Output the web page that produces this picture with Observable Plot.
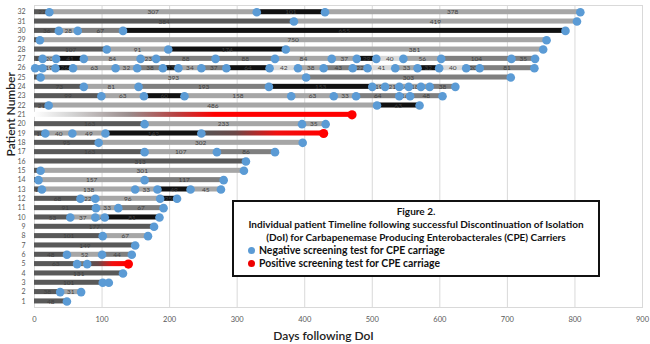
<!DOCTYPE html>
<html>
<head>
<meta charset="utf-8">
<script src="https://cdn.jsdelivr.net/npm/d3@7"></script>
<script src="https://cdn.jsdelivr.net/npm/@observablehq/plot@0.6"></script>
<style>
  body { margin: 0; background: #fff; }
  #chart { position: relative; width: 650px; height: 344px; font-family: Lato, "Open Sans", sans-serif; }
  #key {
    position: absolute; left: 232px; top: 200px; width: 364px; height: 70px;
    border: 2px solid #111; background: #fff; color: #111;
    font-weight: bold; font-size: 10px; line-height: 13.2px; padding-top: 2.5px; box-sizing: content-box;
  }
  #key .t { text-align: center; white-space: nowrap; }
  #key .item { white-space: nowrap; padding-left: 14px; display: flex; align-items: center; font-size: 10.4px; }
  #key .dot { display: inline-block; width: 7px; height: 7px; border-radius: 50%; margin-right: 4px; }
</style>
</head>
<body>
<div id="chart"></div>
<script>
// Patients 1..32, bottom to top
const patientIds = d3.range(1, 33);

// Days between consecutive screening tests, per patient (first interval starts at DoI)
const daysBetweenTests = [
  [48],
  [38, 31],
  [101, 9],
  [131],
  [63, 15, 61],
  [48, 52, 44],
  [149],
  [101, 67],
  [177],
  [53, 37, 14, 81],
  [91, 33, 67],
  [68, 22, 96, 25],
  [11, 138, 33, 49, 45],
  [6, 157, 117],
  [9, 301],
  [313],
  [163, 107, 86],
  [95, 302],
  [16, 40, 49, 142, 181],
  [163, 233, 35],
  [470],
  [21, 486, 63],
  [99, 63, 60, 158, 63, 33, 64, 16, 48],
  [73, 81, 193, 153, 19, 21, 14, 18, 13, 38],
  [9, 393, 303],
  [1, 11, 19, 26, 63, 32, 38, 23, 34, 37, 64, 42, 38, 43, 22, 41, 33, 32, 40, 20, 81],
  [12, 20, 41, 84, 23, 88, 88, 84, 37, 29, 40, 56, 104, 35],
  [107, 91, 174, 381],
  [8, 750],
  [36, 28, 67, 655],
  [384, 419],
  [22, 307, 101, 378]
];

// Shade group of each interval: D dark, M mid, L light, P pale, K black, + ends in a positive test
const segmentShade = [
  "D", "DL", "DL", "D", "DM+", "DLM", "D", "DL", "D", "DLLK",
  "DLM", "DLLK", "DLLKL", "DLM", "DL", "D", "DLM", "DL", "DLLK+", "DLL",
  "+", "DLK", "DLKLLLMLM", "DLMKLLLLLM", "DLM",
  "DMLKLLMKLMKPLMMPLKPMM", "DLKLLMMLLKPLMM", "DLKL", "DL", "DLMK", "DL", "DLKL"
];

const dayTicks = [0, 100, 200, 300, 400, 500, 600, 700, 800, 900];

// Build one record per interval
const segments = [];
patientIds.forEach((p, i) => {
  let t = 0;
  daysBetweenTests[i].forEach((len, j) => {
    const shade = segmentShade[i][j];
    segments.push({
      patient: p, start: t, end: t + len, days: len, shade,
      positive: shade === "+",
      key: shade === "+" ? (t === 0 ? "+0" : "+") : shade
    });
    t += len;
  });
});

const half = 0.27; // half bar thickness in row units

const chart = Plot.plot({
  width: 650,
  height: 344,
  marginLeft: 34,
  marginRight: 8,
  marginTop: 5,
  marginBottom: 37,
  style: { fontFamily: "Lato, 'Open Sans', sans-serif", background: "#fff" },
  x: { domain: [0, 900] },
  y: { domain: [0.35, 32.72] },
  color: {
    domain: ["D", "M", "L", "P", "K", "+", "+0"],
    range: ["#595959", "#7f7f7f", "#a6a6a6", "#d9d9d9", "#111111", "url(#posFromDark)", "url(#posFromBlank)"]
  },
  marks: [
    Plot.gridX(dayTicks.slice(1), { stroke: "#d9d9d9", strokeOpacity: 1 }),
    Plot.frame({ stroke: "#d9d9d9" }),
    Plot.rect(segments, {
      x1: "start", x2: "end",
      y1: d => d.patient - half, y2: d => d.patient + half,
      fill: "key"
    }),
    // interval lengths; one-day gaps sit entirely under their dots
    Plot.text(segments.filter(d => !d.positive && d.days > 2), {
      x: d => (d.start + d.end) / 2, y: "patient", text: d => String(d.days),
      fontSize: 6.5, fill: "#404040"
    }),
    Plot.dot(segments.filter(d => !d.positive), { x: "end", y: "patient", r: 4.3, fill: "#5b9bd5" }),
    Plot.dot(segments.filter(d => d.positive), { x: "end", y: "patient", r: 4.6, fill: "#ff0000" }),
    Plot.axisY(patientIds, { tickSize: 0, tickPadding: 9, fontSize: 7, fill: "#595959", label: null }),
    Plot.axisX(dayTicks, { tickSize: 0, tickPadding: 9, fontSize: 7.5, fill: "#595959", label: null }),
    Plot.text(["Patient Number"], { frameAnchor: "left", dx: -23, rotate: -90, fontSize: 12, fontWeight: 600, fill: "#222" }),
    Plot.text(["Days following DoI"], { frameAnchor: "bottom", dx: -15, dy: 32, fontSize: 12, fontWeight: 600, fill: "#222" })
  ]
});

// Gradients for intervals that end in a positive test
const defs = d3.select(chart).insert("defs", ":first-child");
const gDark = defs.append("linearGradient").attr("id", "posFromDark").attr("x1", 0).attr("x2", 1).attr("y1", 0).attr("y2", 0);
[[0, "#555555"], [0.28, "#6a4848"], [0.62, "#f01010"], [1, "#ff0000"]].forEach(([o, c]) =>
  gDark.append("stop").attr("offset", o).attr("stop-color", c));
const gBlank = defs.append("linearGradient").attr("id", "posFromBlank").attr("x1", 0).attr("x2", 1).attr("y1", 0).attr("y2", 0);
[[0, "#ffffff"], [0.12, "#d4d4d4"], [0.3, "#9a8c8c"], [0.45, "#b84040"], [0.57, "#ff0000"], [1, "#ff0000"]].forEach(([o, c]) =>
  gBlank.append("stop").attr("offset", o).attr("stop-color", c));

const host = document.getElementById("chart");
host.appendChild(chart);

// Caption box with legend
const key = document.createElement("div");
key.id = "key";
key.innerHTML = `
  <div class="t">Figure 2.</div>
  <div class="t">Individual patient Timeline following successful Discontinuation of Isolation</div>
  <div class="t">(DoI) for Carbapenemase Producing Enterobacterales (CPE) Carriers</div>
  <div class="item"><span class="dot" style="background:#5b9bd5"></span>Negative screening test for CPE carriage</div>
  <div class="item"><span class="dot" style="background:#ee0000"></span>Positive screening test for CPE carriage</div>`;
host.appendChild(key);
</script>
</body>
</html>
